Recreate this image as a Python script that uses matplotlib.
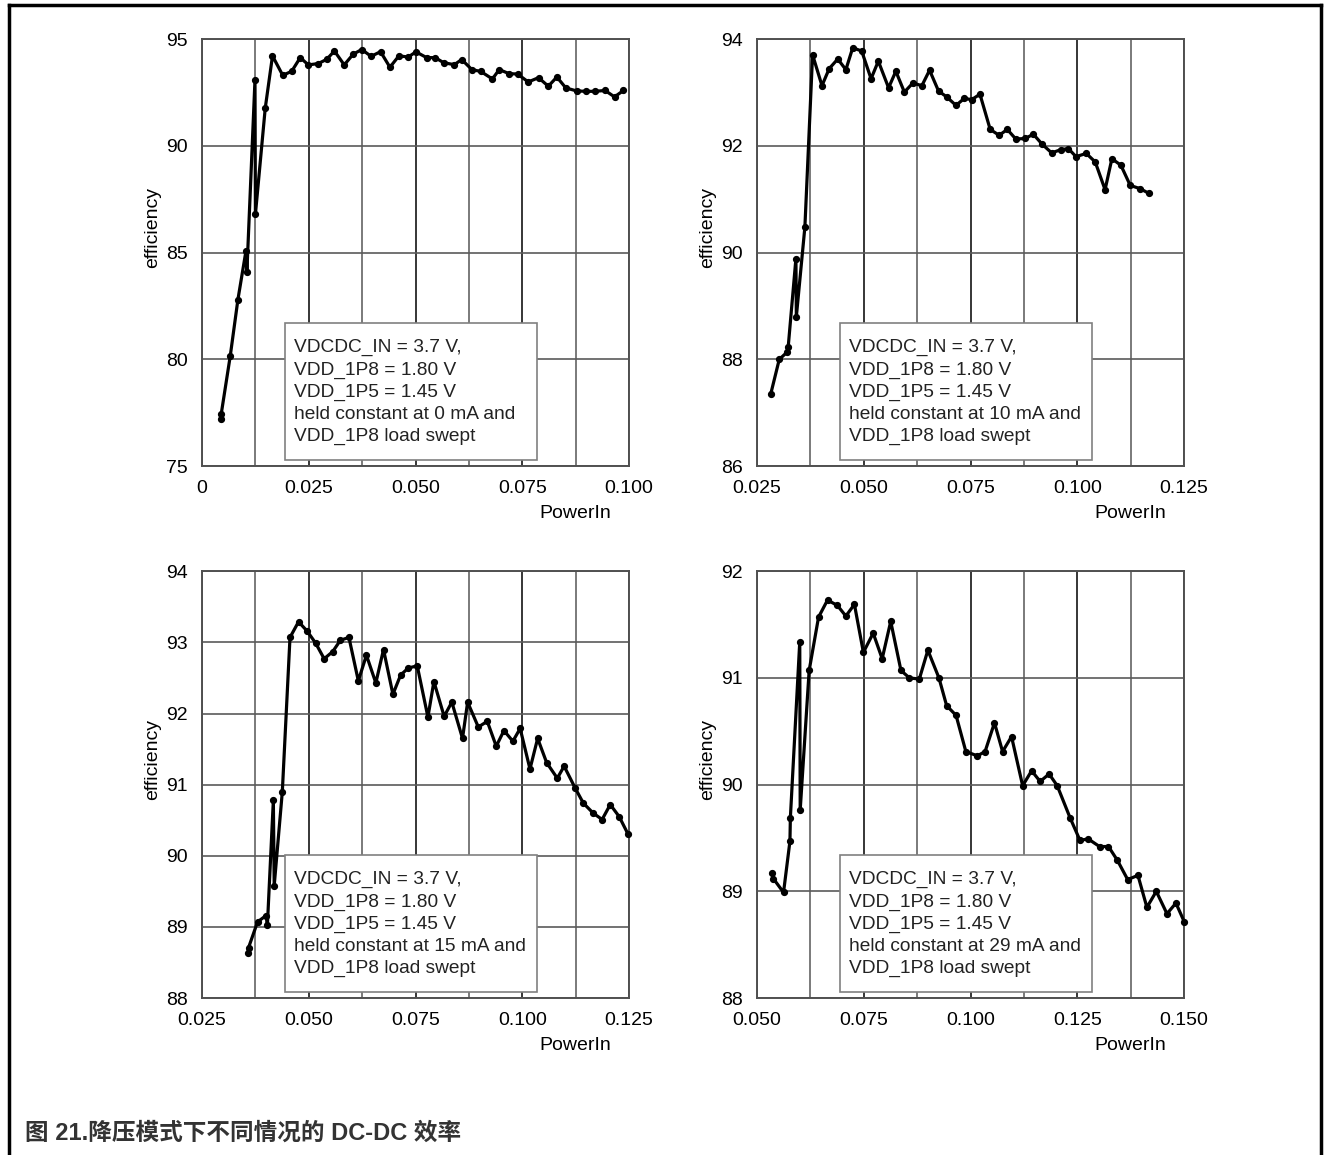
import matplotlib
matplotlib.use('Agg')
import matplotlib.pyplot as plt
from matplotlib.patches import Rectangle
from matplotlib.lines import Line2D
import numpy as np

plt.rcParams['font.family'] = ['Liberation Sans', 'Noto Sans CJK SC', 'DejaVu Sans']

# ---- data (PowerIn in W, efficiency in %) ----
x_0ma = [0.0044, 0.0045, 0.0066, 0.0084, 0.0103, 0.0105, 0.0124, 0.0125, 0.0148, 0.0165,
         0.0189, 0.0210, 0.0230, 0.0249, 0.0272, 0.0292, 0.0310, 0.0333, 0.0354, 0.0374,
         0.0396, 0.0418, 0.0440, 0.0461, 0.0483, 0.0501, 0.0526, 0.0546, 0.0566, 0.0591,
         0.0608, 0.0632, 0.0653, 0.0680, 0.0696, 0.0719, 0.0739, 0.0764, 0.0788, 0.0811,
         0.0831, 0.0852, 0.0877, 0.0899, 0.0920, 0.0944, 0.0966, 0.0987]
y_0ma = [77.2, 77.45, 80.15, 82.8, 85.1, 84.1, 93.1, 86.8, 91.77, 94.22,
         93.31, 93.5, 94.14, 93.8, 93.86, 94.06, 94.45, 93.8, 94.3, 94.52,
         94.2, 94.42, 93.69, 94.22, 94.17, 94.41, 94.14, 94.14, 93.9, 93.81,
         94.05, 93.58, 93.49, 93.14, 93.58, 93.39, 93.37, 93.0, 93.2, 92.8,
         93.23, 92.72, 92.58, 92.56, 92.56, 92.6, 92.3, 92.6]

x_10ma = [0.0282, 0.0302, 0.0321, 0.0323, 0.0341, 0.0342, 0.0362, 0.0380, 0.0402, 0.0419,
          0.0439, 0.0458, 0.0474, 0.0495, 0.0517, 0.0534, 0.0558, 0.0575, 0.0595, 0.0615,
          0.0636, 0.0654, 0.0675, 0.0694, 0.0716, 0.0735, 0.0753, 0.0772, 0.0796, 0.0817,
          0.0836, 0.0856, 0.0878, 0.0897, 0.0918, 0.0940, 0.0961, 0.0979, 0.0997, 0.1021,
          0.1042, 0.1065, 0.1081, 0.1102, 0.1124, 0.1147, 0.1168]
y_10ma = [87.35, 88.0, 88.14, 88.24, 89.89, 88.8, 90.48, 93.71, 93.13, 93.45,
          93.63, 93.43, 93.84, 93.78, 93.26, 93.59, 93.09, 93.4, 93.01, 93.18,
          93.13, 93.42, 93.03, 92.92, 92.76, 92.89, 92.87, 92.97, 92.31, 92.2,
          92.31, 92.13, 92.14, 92.22, 92.03, 91.87, 91.93, 91.95, 91.8, 91.86,
          91.7, 91.18, 91.76, 91.64, 91.26, 91.2, 91.11]

x_15ma = [0.0358, 0.0359, 0.0380, 0.0400, 0.0403, 0.0417, 0.0419, 0.0438, 0.0456, 0.0476,
          0.0496, 0.0516, 0.0536, 0.0556, 0.0574, 0.0594, 0.0616, 0.0635, 0.0657, 0.0675,
          0.0697, 0.0715, 0.0733, 0.0754, 0.0779, 0.0793, 0.0817, 0.0835, 0.0860, 0.0872,
          0.0897, 0.0918, 0.0939, 0.0957, 0.0978, 0.0995, 0.1018, 0.1036, 0.1057, 0.1082,
          0.1098, 0.1124, 0.1143, 0.1166, 0.1187, 0.1206, 0.1227, 0.1248]
y_15ma = [88.63, 88.71, 89.07, 89.16, 89.02, 90.78, 89.58, 90.9, 93.07, 93.29,
          93.16, 92.99, 92.77, 92.87, 93.03, 93.07, 92.46, 92.82, 92.43, 92.9,
          92.27, 92.54, 92.64, 92.67, 91.95, 92.45, 91.96, 92.16, 91.65, 92.16,
          91.81, 91.89, 91.54, 91.76, 91.61, 91.79, 91.22, 91.65, 91.31, 91.09,
          91.26, 90.95, 90.74, 90.6, 90.51, 90.72, 90.55, 90.3]

x_29ma = [0.0536, 0.0538, 0.0562, 0.0577, 0.0578, 0.0600, 0.0601, 0.0622, 0.0644, 0.0665,
          0.0688, 0.0708, 0.0728, 0.0749, 0.0772, 0.0793, 0.0813, 0.0837, 0.0857, 0.0880,
          0.0900, 0.0926, 0.0944, 0.0966, 0.0989, 0.1016, 0.1034, 0.1056, 0.1075, 0.1096,
          0.1122, 0.1143, 0.1163, 0.1184, 0.1203, 0.1233, 0.1256, 0.1276, 0.1302, 0.1323,
          0.1344, 0.1368, 0.1392, 0.1413, 0.1435, 0.1460, 0.1481, 0.1501]
y_29ma = [89.17, 89.12, 88.99, 89.47, 89.69, 91.34, 89.76, 91.07, 91.57, 91.73,
          91.68, 91.58, 91.69, 91.24, 91.42, 91.18, 91.53, 91.07, 91.0, 90.99,
          91.26, 91.0, 90.74, 90.65, 90.31, 90.27, 90.31, 90.58, 90.31, 90.45,
          89.99, 90.13, 90.03, 90.1, 89.99, 89.69, 89.48, 89.49, 89.42, 89.42,
          89.29, 89.11, 89.15, 88.85, 89.0, 88.79, 88.89, 88.71]

currents = ['0', '10', '15', '29']
xlims = [(0, 0.1), (0.025, 0.125), (0.025, 0.125), (0.05, 0.15)]
ylims = [(75, 95), (86, 94), (88, 94), (88, 92)]
ysteps = [5, 2, 1, 1]
xtick_labels = [['0', '0.025', '0.050', '0.075', '0.100'],
                ['0.025', '0.050', '0.075', '0.100', '0.125'],
                ['0.025', '0.050', '0.075', '0.100', '0.125'],
                ['0.050', '0.075', '0.100', '0.125', '0.150']]
series = [(x_0ma, y_0ma), (x_10ma, y_10ma), (x_15ma, y_15ma), (x_29ma, y_29ma)]

fig = plt.figure(figsize=(13.24, 11.55), dpi=100)

# axes boxes in figure fraction
lefts = [0.1526, 0.5718, 0.1526, 0.5718]
bottoms = [0.5965, 0.5965, 0.1359, 0.1359]
w, h = 0.3225, 0.3695

for i in range(4):
    ax = fig.add_axes([lefts[i], bottoms[i], w, h])
    x0, x1 = xlims[i]
    y0, y1 = ylims[i]
    ax.set_xlim(x0, x1)
    ax.set_ylim(y0, y1)
    ax.set_xticks(np.linspace(x0, x1, 5))
    ax.set_xticklabels(xtick_labels[i])
    ax.set_xticks(np.linspace(x0, x1, 9), minor=True)
    ax.set_yticks(np.arange(y0, y1 + 0.001, ysteps[i]))
    ax.tick_params(axis='both', which='both', length=0, labelsize=14)
    ax.tick_params(axis='x', pad=10)
    ax.tick_params(axis='y', pad=10)
    ax.grid(True, axis='x', which='minor', color='#7a7a7a', lw=1.4)
    ax.grid(True, axis='x', which='major', color='black', lw=1.1)
    ax.grid(True, axis='y', which='major', color='#5a5a5a', lw=1.2)
    for s in ax.spines.values():
        s.set_color('#505050')
        s.set_linewidth(1.4)

    xs, ys = series[i]
    ax.plot(xs, ys, color='black', lw=2.3, marker='o', markersize=4.2, zorder=3,
            clip_on=False)

    ax.text(0.875, -0.111, 'PowerIn', transform=ax.transAxes, ha='center', va='center',
            fontsize=14)
    ax.text(-0.115, 0.56, 'efficiency', transform=ax.transAxes, rotation=90,
            ha='center', va='center', fontsize=14)

    ax.add_patch(Rectangle((0.195, 0.014), 0.59, 0.321, transform=ax.transAxes,
                           facecolor='white', edgecolor='#808080', lw=1.2, zorder=4))
    txt = ('VDCDC_IN = 3.7 V,\nVDD_1P8 = 1.80 V\nVDD_1P5 = 1.45 V\n'
           'held constant at %s mA and\nVDD_1P8 load swept' % currents[i])
    ax.text(0.216, 0.297, txt, transform=ax.transAxes, ha='left', va='top',
            fontsize=13.8, linespacing=1.39, color='#222222', zorder=5)

# caption
fig.text(0.019, 0.0185, '图 21.降压模式下不同情况的 DC-DC 效率', fontsize=17,
         fontweight='bold', color='#333333', ha='left', va='center')

# page frame
fig.add_artist(Line2D([0.0065, 0.0065], [0.0, 0.9955], color='black', lw=2.5))
fig.add_artist(Line2D([0.0065, 0.9975], [0.9955, 0.9955], color='black', lw=2.5))
fig.add_artist(Line2D([0.9975, 0.9975], [0.0, 0.9955], color='black', lw=2.5))

fig.savefig('out.png', dpi=100)
